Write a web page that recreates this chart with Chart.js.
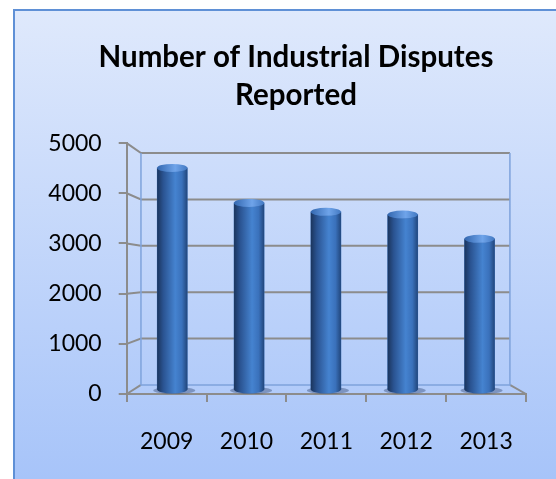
<!DOCTYPE html>
<html>
<head>
<meta charset="utf-8">
<script src="https://cdn.jsdelivr.net/npm/chart.js@4/dist/chart.umd.min.js"></script>
<style>
    html, body { margin: 0; padding: 0; background: #fff; overflow: hidden; width: 556px; height: 479px; }
</style>
</head>
<body>
<canvas id="disputesChart" width="592" height="479"></canvas>
<script>
const years = ["2009", "2010", "2011", "2012", "2013"];
const disputes = [4590, 3865, 3680, 3625, 3120];
const yMin = 0;
const yMax = 5000;
const yStep = 1000;
const titleLines = ["Number of Industrial Disputes", "Reported"];

// fake 3d: back wall = front frame shrunk toward a vanishing point,
// the cylinders stand half way between front and back
const DEPTH = 0.924;
const MID = (1 + DEPTH) / 2;
const VP = { x: 0.47, y: 0.525 }; // fraction of the plot area, from left / from top

const GRID = "#8c8c8c";
const WALL = "#7fa3dc";

// range for a hidden axis so that values land at mid depth
function midRange(lo, hi, frac) {
    const c = lo + frac * (hi - lo);
    return { min: c + (lo - c) / MID, max: c + (hi - c) / MID };
}
const xMid = midRange(-0.5, years.length - 0.5, VP.x);
const yMid = midRange(yMax, yMin, VP.y); // pixel axis runs top -> bottom
const barPoints = years.map((y, i) => ({ x: i, y: disputes[i] }));

const background = {
    id: "background",
    beforeDraw(chart) {
        const ctx = chart.ctx;
        ctx.save();
        ctx.fillStyle = "#ffffff";
        ctx.fillRect(0, 0, chart.width, chart.height);
        const g = ctx.createLinearGradient(0, 10, 0, chart.height);
        g.addColorStop(0, "#dfe9fc");
        g.addColorStop(1, "#a7c4f9");
        ctx.fillStyle = g;
        ctx.fillRect(14, 10, chart.width, chart.height);
        ctx.strokeStyle = "#5f90d6";
        ctx.lineWidth = 2;
        ctx.strokeRect(14, 10, chart.width + 20, chart.height + 20);
        ctx.restore();
    }
};

const walls = {
    id: "walls",
    beforeDatasetsDraw(chart) {
        const ctx = chart.ctx;
        const a = chart.chartArea;
        const y = chart.scales.y;
        const cx = a.left + VP.x * (a.right - a.left);
        const cy = a.top + VP.y * (a.bottom - a.top);
        const bx = px => cx + DEPTH * (px - cx);
        const by = py => cy + DEPTH * (py - cy);
        ctx.save();
        ctx.lineWidth = 2;
        // gridlines on the back wall + connectors on the side wall
        y.ticks.forEach(t => {
            const py = y.getPixelForValue(t.value);
            ctx.strokeStyle = GRID;
            ctx.beginPath();
            ctx.moveTo(a.left, py);
            ctx.lineTo(bx(a.left), by(py));
            if (t.value !== yMin) ctx.lineTo(bx(a.right), by(py));
            ctx.stroke();
        });
        // floor right edge
        ctx.beginPath();
        ctx.moveTo(a.right, a.bottom);
        ctx.lineTo(bx(a.right), by(a.bottom));
        ctx.stroke();
        // back wall outline
        ctx.strokeStyle = WALL;
        ctx.lineWidth = 1.5;
        ctx.beginPath();
        ctx.moveTo(bx(a.left), by(a.top));
        ctx.lineTo(bx(a.left), by(a.bottom));
        ctx.lineTo(bx(a.right), by(a.bottom));
        ctx.lineTo(bx(a.right), by(a.top));
        ctx.stroke();
        ctx.restore();
    }
};

const cylinders = {
    id: "cylinders",
    afterDatasetsDraw(chart) {
        const ctx = chart.ctx;
        chart.getDatasetMeta(0).data.forEach(bar => {
            const { x, y, base, width } = bar.getProps(["x", "y", "base", "width"], true);
            const rx = width / 2, ry = 4;
            const l = x - rx, r = x + rx;
            ctx.save();
            // shadow on the floor
            ctx.fillStyle = "rgba(25, 45, 85, 0.35)";
            ctx.beginPath();
            ctx.ellipse(x + 2, base + 1, rx + 6, 3.5, 0, 0, Math.PI * 2);
            ctx.fill();
            // body
            const g = ctx.createLinearGradient(l, 0, r, 0);
            g.addColorStop(0, "#1b355d");
            g.addColorStop(0.2, "#2a5391");
            g.addColorStop(0.6, "#4583d0");
            g.addColorStop(0.82, "#3a71bb");
            g.addColorStop(1, "#22477d");
            ctx.fillStyle = g;
            ctx.beginPath();
            ctx.moveTo(l, y);
            ctx.lineTo(l, base);
            ctx.ellipse(x, base, rx, ry, 0, Math.PI, 0, true);
            ctx.lineTo(r, y);
            ctx.ellipse(x, y, rx, ry, 0, 0, Math.PI, false);
            ctx.closePath();
            ctx.fill();
            // top cap
            const c = ctx.createLinearGradient(l, 0, r, 0);
            c.addColorStop(0, "#3468b0");
            c.addColorStop(0.6, "#6fa4ea");
            c.addColorStop(1, "#4379c2");
            ctx.fillStyle = c;
            ctx.beginPath();
            ctx.ellipse(x, y, rx, ry, 0, 0, Math.PI * 2);
            ctx.fill();
            ctx.restore();
        });
    }
};

const tickFont = { family: "Lato", size: 23 };

new Chart(document.getElementById("disputesChart"), {
    type: "bar",
    data: {
        labels: years,
        datasets: [{
            label: "Disputes",
            data: barPoints,
            xAxisID: "xb",
            yAxisID: "yb",
            backgroundColor: "#2f62a8",
            borderWidth: 0,
            barThickness: 30
        }]
    },
    options: {
        responsive: false,
        devicePixelRatio: 1,
        animation: false,
        layout: { padding: 0 },
        plugins: {
            legend: { display: false },
            tooltip: { enabled: false },
            title: {
                display: true,
                text: titleLines,
                color: "#000",
                font: { family: "Lato", size: 29.5, weight: "bold", lineHeight: 1.29 },
                padding: { top: 38, bottom: 29 }
            }
        },
        scales: {
            x: {
                type: "category",
                offset: true,
                afterFit: s => { s.height = 85; },
                grid: { offset: true, drawOnChartArea: false, drawTicks: true, tickLength: 8, color: GRID, lineWidth: 2 },
                border: { display: true, color: GRID, width: 2 },
                ticks: { color: "#000", font: tickFont, padding: 26, maxRotation: 0 }
            },
            y: {
                type: "linear",
                min: yMin,
                max: yMax,
                afterFit: s => { s.width = 126.7; },
                grid: { drawOnChartArea: false, drawTicks: true, tickLength: 8, color: GRID, lineWidth: 2 },
                border: { display: true, color: GRID, width: 2 },
                ticks: { stepSize: yStep, color: "#000", font: tickFont, padding: 17, callback: v => String(v) }
            },
            xb: { type: "linear", display: false, offset: false, min: xMid.min, max: xMid.max },
            // kept "displayed" but empty so it reserves the strip right of the plot
            yb: {
                type: "linear", position: "right", min: yMid.max, max: yMid.min,
                afterFit: s => { s.width = 66; },
                grid: { display: false }, border: { display: false }, ticks: { display: false }
            }
        }
    },
    plugins: [background, walls, cylinders]
});
</script>
</body>
</html>
